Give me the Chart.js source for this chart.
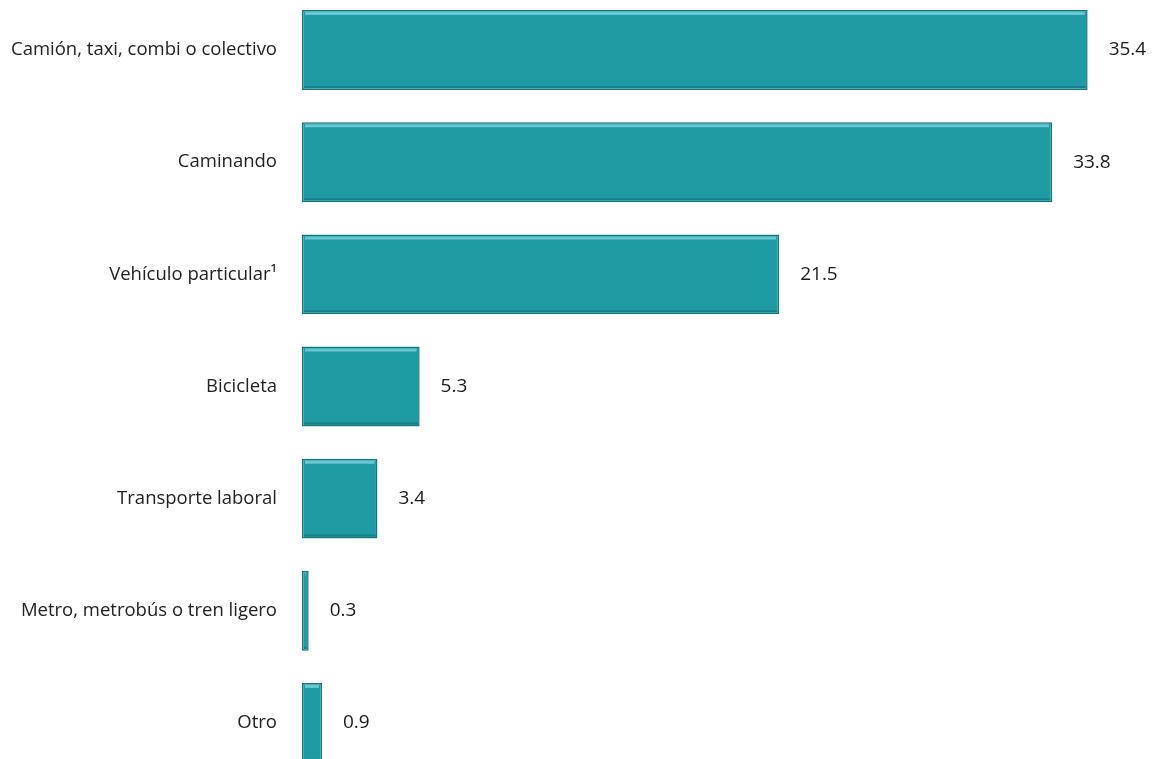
<!DOCTYPE html>
<html>
<head>
<meta charset="utf-8">
<script src="https://cdn.jsdelivr.net/npm/chart.js@4"></script>
<style>
  html, body { margin: 0; padding: 0; background: #fff; overflow: hidden; }
  #wrap { position: absolute; left: 0; top: -6px; width: 1152px; height: 785px; }
</style>
</head>
<body>
<div id="wrap"><canvas id="chart"></canvas></div>
<script>
  // data
  var categories = [
    "Camión, taxi, combi o colectivo",
    "Caminando",
    "Vehículo particular¹",
    "Bicicleta",
    "Transporte laboral",
    "Metro, metrobús o tren ligero",
    "Otro"
  ];
  var shares = [35.4, 33.8, 21.5, 5.3, 3.4, 0.3, 0.9];

  // value labels at the end of each bar
  var valueLabels = {
    id: "valueLabels",
    afterDatasetsDraw: function (chart) {
      var ctx = chart.ctx;
      var meta = chart.getDatasetMeta(0);
      ctx.save();
      ctx.font = "19px 'Open Sans', sans-serif";
      ctx.fillStyle = "#1a1a1a";
      ctx.textAlign = "left";
      ctx.textBaseline = "middle";
      meta.data.forEach(function (bar, i) {
        ctx.fillText(shares[i].toFixed(1), bar.x + 21, bar.y);
      });
      ctx.restore();
    }
  };

  // light top edge + darker bottom edge on each bar
  var bevel = {
    id: "bevel",
    afterDatasetsDraw: function (chart) {
      var ctx = chart.ctx;
      var meta = chart.getDatasetMeta(0);
      ctx.save();
      meta.data.forEach(function (bar) {
        var left = bar.base, right = bar.x;
        var top = bar.y - bar.height / 2;
        var bottom = bar.y + bar.height / 2;
        if (right - left < 6) return;
        ctx.strokeStyle = "rgba(110, 205, 215, 0.9)";
        ctx.lineWidth = 3;
        ctx.beginPath();
        ctx.moveTo(left + 3, top + 3.5);
        ctx.lineTo(right - 3, top + 3.5);
        ctx.stroke();
        ctx.strokeStyle = "rgba(20, 120, 128, 0.8)";
        ctx.lineWidth = 2;
        ctx.beginPath();
        ctx.moveTo(left + 2, bottom - 3);
        ctx.lineTo(right - 2, bottom - 3);
        ctx.stroke();
      });
      ctx.restore();
    }
  };

  var el = document.getElementById("chart");
  new Chart(el, {
    type: "bar",
    data: {
      labels: categories,
      datasets: [
        {
          data: shares,
          backgroundColor: "#1f9ba3",
          borderColor: "#147880",
          borderWidth: 1.5,
          borderSkipped: false,
          barPercentage: 1,
          categoryPercentage: 0.713
        }
      ]
    },
    plugins: [bevel, valueLabels],
    options: {
      indexAxis: "y",
      responsive: true,
      maintainAspectRatio: false,
      animation: false,
      layout: { padding: 0 },
      plugins: {
        legend: { display: false },
        tooltip: { enabled: false }
      },
      scales: {
        x: {
          display: false,
          min: 0,
          max: 38.3
        },
        y: {
          grid: { display: false },
          border: { display: false },
          ticks: {
            padding: 17,
            color: "#222222",
            font: { family: "'Open Sans', sans-serif", size: 18.5 }
          },
          afterFit: function (scale) {
            scale.width = 302;
            scale.paddingTop = 0;
            scale.paddingBottom = 0;
          }
        }
      }
    }
  });
</script>
</body>
</html>
